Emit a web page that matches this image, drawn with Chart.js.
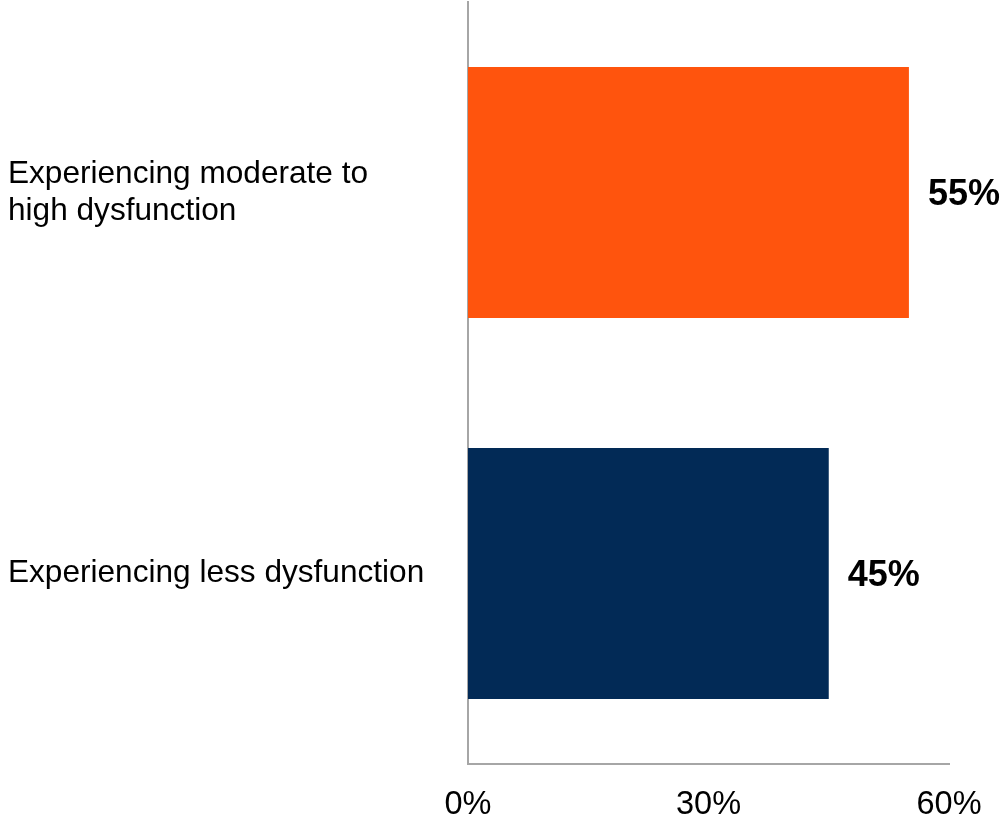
<!DOCTYPE html>
<html>
<head>
<meta charset="utf-8">
<script src="https://cdn.jsdelivr.net/npm/chart.js@4/dist/chart.umd.min.js"></script>
<style>
  html, body { margin: 0; padding: 0; background: #ffffff; }
  #wrap { width: 1005px; height: 822px; }
</style>
</head>
<body>
<div id="wrap"><canvas id="c" width="1005" height="822"></canvas></div>
<script>
// Share of respondents by level of dysfunction
const categories = [
  ["Experiencing moderate to", "high dysfunction"],
  ["Experiencing less dysfunction"]
];
const shares = [55, 45];
const barColors = ["#FF540D", "#022A56"];
const tickValues = [0, 30, 60];

const FONT = "'Liberation Sans', Arial, Helvetica, sans-serif";
const AXIS_GREY = "#A6A6A6";

// Bold percentage written just past the end of each bar
const valueLabels = {
  id: "valueLabels",
  afterDatasetsDraw(chart) {
    const ctx = chart.ctx;
    const meta = chart.getDatasetMeta(0);
    ctx.save();
    ctx.font = "bold 36px " + FONT;
    ctx.fillStyle = "#000000";
    ctx.textAlign = "left";
    ctx.textBaseline = "middle";
    meta.data.forEach((bar, i) => {
      const v = chart.data.datasets[0].data[i];
      ctx.fillText(v + "%", bar.x + 19, bar.y + 3);
    });
    ctx.restore();
  }
};

new Chart(document.getElementById("c"), {
  type: "bar",
  data: {
    labels: categories,
    datasets: [{
      data: shares,
      backgroundColor: barColors,
      borderWidth: 0,
      categoryPercentage: 1.0,
      barPercentage: 0.659
    }]
  },
  options: {
    indexAxis: "y",
    responsive: false,
    animation: false,
    devicePixelRatio: 1,
    layout: { padding: { left: 8, top: 2, right: 56, bottom: 0 } },
    plugins: {
      legend: { display: false },
      tooltip: { enabled: false },
      title: { display: false }
    },
    scales: {
      x: {
        type: "linear",
        min: 0,
        max: 60,
        afterBuildTicks(scale) {
          scale.ticks = tickValues.map(v => ({ value: v }));
        },
        afterFit(scale) { scale.height = 58; },
        grid: { display: false, drawTicks: false },
        border: { display: true, color: AXIS_GREY, width: 2 },
        ticks: {
          padding: 22,
          color: "#000000",
          font: { family: FONT, size: 32.5 },
          maxRotation: 0,
          callback: v => v + "%"
        }
      },
      y: {
        afterFit(scale) {
          scale.width = 460;
          // the axis runs to the very top; labels need no extra room there
          scale.paddingTop = 0;
          scale.paddingBottom = 0;
        },
        grid: { display: false, drawTicks: false },
        border: { display: true, color: AXIS_GREY, width: 2 },
        ticks: {
          crossAlign: "far",
          color: "#000000",
          font: { family: FONT, size: 31.6, lineHeight: 1.17 }
        }
      }
    }
  },
  plugins: [valueLabels]
});
</script>
</body>
</html>
